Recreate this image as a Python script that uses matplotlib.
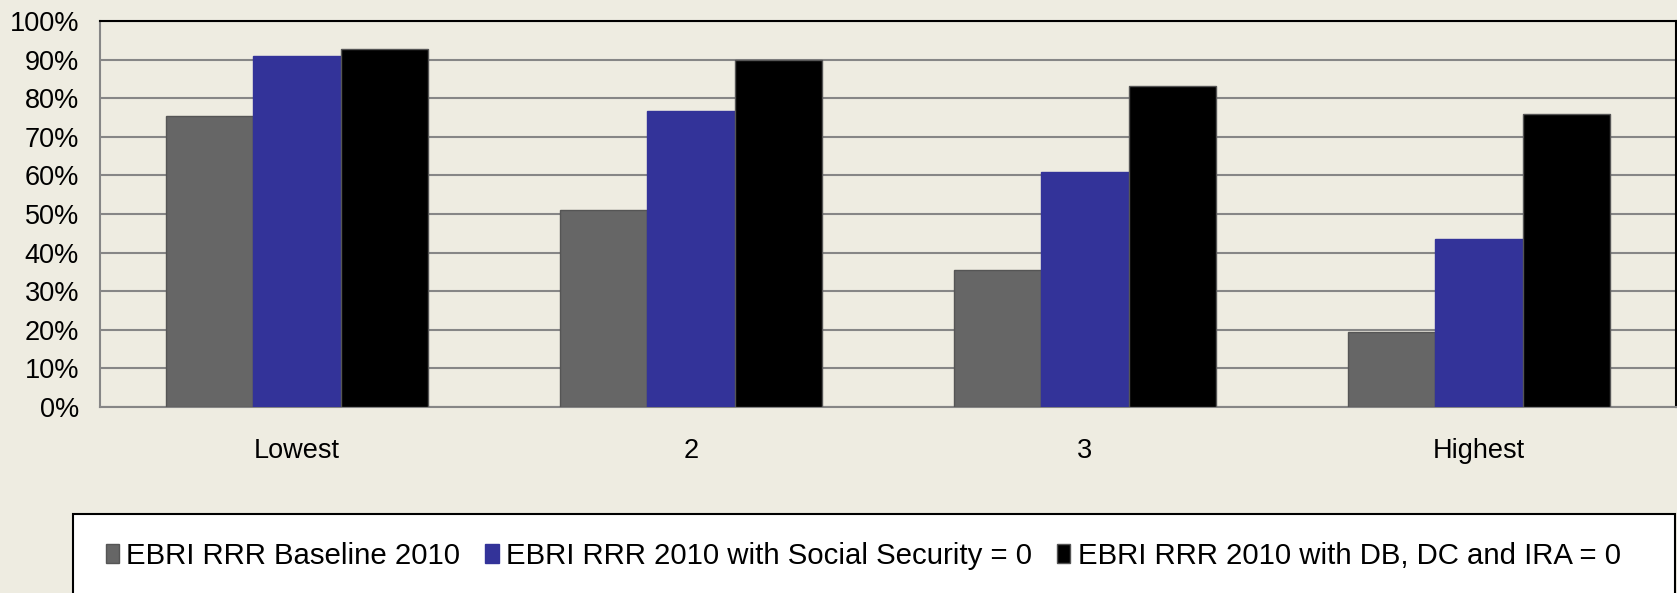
import matplotlib
matplotlib.use('Agg')
import matplotlib.pyplot as plt
import numpy as np

plt.rcParams['font.family'] = ['Liberation Sans', 'DejaVu Sans']

categories = ['Lowest', '2', '3', 'Highest']
series_names = ['EBRI RRR Baseline 2010',
                'EBRI RRR 2010 with Social Security = 0',
                'EBRI RRR 2010 with DB, DC and IRA = 0']
baseline = [75.5, 51.0, 35.5, 19.5]
no_ss = [91.0, 76.7, 60.8, 43.5]
no_db_dc_ira = [92.8, 90.0, 83.1, 75.8]
colors = ['#666666', '#333399', '#000000']
bg = '#EEECE1'

fig = plt.figure(figsize=(16.77, 5.93), dpi=100, facecolor=bg)
ax = fig.add_axes([0.0596, 0.3137, 0.9398, 0.6509])
ax.set_facecolor(bg)

x = np.arange(len(categories))
w = 1 / 4.5
for i, vals in enumerate([baseline, no_ss, no_db_dc_ira]):
    ax.bar(x + (i - 1) * w, vals, w, color=colors[i], label=series_names[i],
           edgecolor='#555555' if i != 1 else colors[i], linewidth=1, zorder=3)

ax.set_xlim(-0.5, len(categories) - 0.5)
ax.set_ylim(0, 100)
ax.set_yticks(np.arange(0, 101, 10))
ax.set_yticklabels([f'{v}%' for v in range(0, 101, 10)])
ax.set_xticks(x)
ax.set_xticklabels(categories)
ax.tick_params(axis='y', length=0, labelsize=19.5, pad=15)
ax.tick_params(axis='x', length=0, labelsize=19.5, pad=22)
ax.grid(axis='y', color='#868686', linewidth=1.5, zorder=0)

for s in ['left', 'bottom']:
    ax.spines[s].set_color('#868686')
    ax.spines[s].set_linewidth(1.5)
for s in ['top', 'right']:
    ax.spines[s].set_color('#000000')
    ax.spines[s].set_linewidth(1.5)

leg = fig.legend(loc='center', bbox_to_anchor=(0.5147, 0.0625), ncol=3,
                 fontsize=21.2, frameon=False, handlelength=0.45, handleheight=0.65,
                 handletextpad=0.25, columnspacing=0.85)
box = plt.Rectangle((73 / 1677, -0.05), 1602 / 1677, 79 / 593 + 0.05,
                    transform=fig.transFigure, facecolor='white',
                    edgecolor='black', linewidth=1.5, zorder=0)
fig.patches.append(box)

fig.savefig('out.png', dpi=100, facecolor=bg)
